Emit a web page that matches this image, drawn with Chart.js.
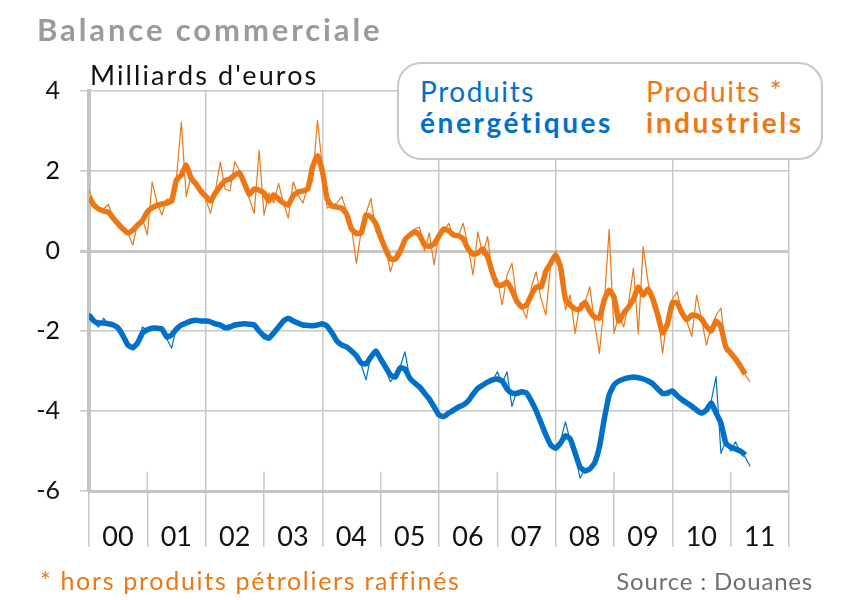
<!DOCTYPE html>
<html lang="fr">
<head>
<meta charset="utf-8">
<title>Balance commerciale</title>
<script src="https://cdn.jsdelivr.net/npm/chart.js@4.4.1/dist/chart.umd.min.js"></script>
<style>
  html, body { margin: 0; padding: 0; background: #fff; }
  #wrap { position: relative; width: 858px; height: 600px; font-family: Lato, sans-serif; overflow: hidden; }
  #wrap canvas { position: absolute; left: 0; top: 0; }
  .txt { position: absolute; white-space: nowrap; }
  .title { left: 37px; top: 14px; font-size: 31px; line-height: 31px; font-weight: 700; color: #9b9b9b; letter-spacing: 2.9px; }
  .unit { left: 90px; top: 61px; font-size: 27px; line-height: 27px; color: #111; letter-spacing: 2.1px; }
  .legend { position: absolute; left: 397px; top: 62px; width: 422px; height: 94px; border: 2px solid #c8c8c8; border-radius: 24px; background: #fff; }
  .leg { top: 76px; font-size: 28px; line-height: 31px; letter-spacing: 1.6px; }
  .leg b { letter-spacing: 2.6px; }
  .note { left: 40px; top: 568px; font-size: 25px; line-height: 25px; color: #ec7714; letter-spacing: 1.7px; }
  .source { right: 45px; top: 569px; font-size: 24px; line-height: 24px; color: #707070; letter-spacing: 0.8px; }
</style>
</head>
<body>
<div id="wrap">
  <canvas id="chart" width="858" height="600"></canvas>
  <div class="txt title">Balance commerciale</div>
  <div class="txt unit">Milliards d'euros</div>
  <div class="legend"></div>
  <div class="txt leg" style="left:420px;color:#0070c8">Produits<br><b>énergétiques</b></div>
  <div class="txt leg" style="left:646px;color:#ec7714">Produits *<br><b>industriels</b></div>
  <div class="txt note">* hors produits pétroliers raffinés</div>
  <div class="txt source">Source : Douanes</div>
</div>
<script>
// monthly values, Jan 2000 -> May 2011 (one row per year)
const startYear = 2000;
const yearTicks = [2000, 2001, 2002, 2003, 2004, 2005, 2006, 2007, 2008, 2009, 2010, 2011, 2012];
const yearLabels = ['00', '01', '02', '03', '04', '05', '06', '07', '08', '09', '10', '11', ''];
const oddYears = [2001, 2003, 2005, 2007, 2009, 2011];

// produits industriels, raw
const indusRaw = [
  1.52, 1.2, 1.02, 1.05, 1.17, 0.8, 0.7, 0.55, 0.45, 0.15, 0.7, 0.8,
  0.4, 1.73, 1.2, 0.9, 1.3, 1.3, 1.85, 3.22, 1.36, 1.9, 1.6, 1.45,
  1.3, 0.94, 1.5, 2.23, 1.55, 1.5, 2.23, 2.0, 1.55, 1.3, 0.94, 2.52,
  0.9, 1.45, 1.2, 1.69, 1.2, 0.82, 1.73, 1.4, 1.2, 1.6, 1.75, 3.27,
  2.1, 1.07, 1.15, 1.2, 1.36, 1.0, 0.6, -0.31, 0.5, 0.95, 1.32, 0.5,
  0.3, 0.1, -0.52, -0.1, 0.1, 0.35, 0.4, 0.55, 0.6, 0.0, 0.45, -0.35,
  0.45, 0.5, 0.69, 0.35, 0.4, 0.69, 0.1, -0.6, 0.48, -0.1, 0.36, -0.6,
  -0.7, -1.35, -0.6, -0.31, -1.2, -1.4, -1.68, -0.9, -0.52, -1.2, -1.6, -0.3,
  0.0, -0.5, -1.47, -1.1, -2.06, -1.3, -1.3, -0.89, -1.8, -2.56, -1.3, 0.54,
  -2.06, -1.6, -1.9, -1.3, -0.43, -2.06, 0.11, -0.77, -1.4, -1.5, -2.56, -1.6,
  -1.2, -1.02, -1.6, -1.77, -2.14, -1.1, -1.7, -2.35, -1.9, -1.6, -1.43, -2.52,
  -2.5, -2.75, -2.9, -3.1, -3.27
];
// produits industriels, smoothed
const indusSmooth = [
  1.35, 1.15, 1.05, 1.0, 0.97, 0.82, 0.68, 0.55, 0.45, 0.52, 0.65, 0.76,
  0.98, 1.08, 1.14, 1.18, 1.2, 1.25, 1.78, 1.9, 2.15, 1.82, 1.68, 1.5,
  1.37, 1.25, 1.45, 1.62, 1.76, 1.8, 1.9, 1.95, 1.68, 1.42, 1.55, 1.52,
  1.45, 1.25, 1.4, 1.3, 1.2, 1.15, 1.38, 1.47, 1.5, 1.55, 2.1, 2.38,
  2.0, 1.3, 1.12, 1.1, 1.07, 0.92, 0.55, 0.44, 0.45, 0.9, 0.85, 0.68,
  0.35, 0.05, -0.2, -0.2, -0.02, 0.28, 0.4, 0.48, 0.4, 0.15, 0.12, 0.18,
  0.38, 0.55, 0.5, 0.4, 0.38, 0.3, 0.05, -0.08, -0.05, 0.05, -0.15, -0.55,
  -0.85, -0.85, -0.78, -0.98, -1.25, -1.4, -1.35, -1.1, -0.9, -0.9, -0.5, -0.3,
  -0.1, -0.4, -1.2, -1.35, -1.45, -1.45, -1.28, -1.5, -1.65, -1.68, -1.22, -0.98,
  -1.15, -1.75, -1.55, -1.4, -1.2, -0.9, -1.1, -0.95, -1.2, -1.6, -2.05, -1.82,
  -1.3, -1.3, -1.55, -1.72, -1.6, -1.62, -1.7, -1.88, -2.0, -1.75, -1.9, -2.4,
  -2.55, -2.7, -2.88, -3.08, null
];
// produits energetiques, raw
const energRaw = [
  -1.55, -1.8, -1.9, -1.68, -1.85, -1.85, -1.95, -2.15, -2.4, -2.45, -2.28, -1.9,
  -2.0, -1.9, -1.95, -1.9, -2.2, -2.43, -1.9, -1.85, -1.78, -1.73, -1.75, -1.72,
  -1.78, -1.75, -1.85, -1.83, -1.95, -1.85, -1.8, -1.85, -1.78, -1.88, -1.8, -2.05,
  -2.2, -2.15, -2.0, -1.88, -1.72, -1.65, -1.78, -1.82, -1.88, -1.85, -1.9, -1.82,
  -1.78, -1.9, -2.1, -2.25, -2.4, -2.38, -2.55, -2.6, -2.85, -3.22, -2.6, -2.45,
  -2.75, -2.95, -3.27, -3.1, -2.9, -2.52, -3.2, -3.3, -3.45, -3.55, -3.75, -3.95,
  -4.15, -4.1, -4.05, -3.95, -3.92, -3.8, -3.72, -3.6, -3.4, -3.35, -3.25, -3.25,
  -3.02, -3.3, -3.02, -3.89, -3.5, -3.55, -3.5, -3.8, -4.05, -4.35, -4.65, -4.9,
  -4.95, -4.75, -4.27, -4.75, -5.1, -5.68, -5.45, -5.5, -5.3, -4.85, -4.15, -3.55,
  -3.3, -3.25, -3.2, -3.15, -3.17, -3.15, -3.22, -3.25, -3.35, -3.45, -3.6, -3.5,
  -3.55, -3.65, -3.75, -3.8, -3.95, -3.9, -4.1, -3.9, -3.75, -3.14, -5.06, -4.75,
  -5.0, -4.77, -5.05, -5.15, -5.39
];
// produits energetiques, smoothed
const energSmooth = [
  -1.6, -1.75, -1.8, -1.8, -1.82, -1.85, -1.93, -2.12, -2.35, -2.42, -2.3, -2.05,
  -1.97, -1.93, -1.93, -1.95, -2.15, -2.1, -1.95, -1.85, -1.8, -1.75, -1.73, -1.75,
  -1.75, -1.77, -1.82, -1.85, -1.92, -1.9, -1.85, -1.83, -1.82, -1.83, -1.85, -2.0,
  -2.12, -2.18, -2.05, -1.9, -1.75, -1.68, -1.75, -1.8, -1.85, -1.86, -1.87, -1.85,
  -1.82, -1.88, -2.05, -2.25, -2.35, -2.4, -2.5, -2.62, -2.8, -2.82, -2.65, -2.5,
  -2.7, -2.9, -3.1, -3.15, -2.92, -2.95, -3.18, -3.3, -3.4, -3.55, -3.7, -3.9,
  -4.1, -4.14, -4.05, -3.98, -3.9, -3.85, -3.75, -3.58, -3.43, -3.35, -3.28, -3.22,
  -3.2, -3.25, -3.45, -3.55, -3.56, -3.52, -3.55, -3.75, -4.0, -4.3, -4.6, -4.85,
  -4.93, -4.8, -4.62, -4.7, -5.05, -5.4, -5.5, -5.45, -5.3, -4.9, -4.2, -3.6,
  -3.35, -3.25, -3.2, -3.17, -3.15, -3.17, -3.2, -3.25, -3.32, -3.45, -3.56, -3.55,
  -3.5, -3.62, -3.72, -3.8, -3.88, -3.98, -4.05, -3.98, -3.8, -4.05, -4.3, -4.8,
  -4.9, -4.95, -5.0, -5.1, null
];

const BLUE = '#0070c8';
const ORANGE = '#ec7714';
const GRID = '#c8c8c8';

// month index -> decimal year on the x axis
const toPoints = arr => arr.map((v, i) => ({ x: startYear + i / 12, y: v }));

const lineSet = (label, arr, color, width, order) => ({
  label,
  data: toPoints(arr),
  borderColor: color,
  borderWidth: width,
  pointRadius: 0,
  tension: width > 2 ? 0.15 : 0,
  borderJoinStyle: 'round',
  spanGaps: false,
  order
});

// short marks above the axis for odd years
const oddYearTicks = {
  id: 'oddYearTicks',
  beforeDatasetsDraw(chart) {
    const { ctx, scales: { x, y } } = chart;
    ctx.save();
    ctx.strokeStyle = GRID;
    ctx.lineWidth = 1.5;
    oddYears.forEach(yr => {
      const px = x.getPixelForValue(yr);
      ctx.beginPath();
      ctx.moveTo(px, y.getPixelForValue(-6));
      ctx.lineTo(px, y.getPixelForValue(-5.52));
      ctx.stroke();
    });
    ctx.restore();
  }
};

new Chart(document.getElementById('chart'), {
  type: 'line',
  data: {
    datasets: [
      lineSet('Produits énergétiques (lissé)', energSmooth, BLUE, 5.5, 4),
      lineSet('Produits énergétiques', energRaw, BLUE, 1.2, 3),
      lineSet('Produits industriels (lissé)', indusSmooth, ORANGE, 5.5, 2),
      lineSet('Produits industriels', indusRaw, ORANGE, 1.2, 1)
    ]
  },
  options: {
    responsive: false,
    animation: false,
    layout: { padding: { left: 0, top: 91, right: 69, bottom: 49 } },
    plugins: { legend: { display: false }, tooltip: { enabled: false } },
    scales: {
      x: {
        type: 'linear',
        min: 2000,
        max: 2012,
        afterFit: s => { s.height = 60; },
        afterBuildTicks: s => { s.ticks = yearTicks.map(v => ({ value: v })); },
        ticks: {
          autoSkip: false,
          maxRotation: 0,
          labelOffset: 29,
          padding: -26,
          color: '#111',
          font: { family: 'Lato', size: 27 },
          callback: (v, i) => yearLabels[i]
        },
        grid: {
          color: c => (c.tick && c.tick.value % 2 === 0) ? GRID : 'rgba(0,0,0,0)',
          lineWidth: 1.5,
          tickLength: 56,
          tickColor: GRID,
          tickWidth: 1.5
        },
        border: { color: '#c4c4c4', width: 3 }
      },
      y: {
        min: -6,
        max: 4,
        afterFit: s => { s.width = 89; },
        ticks: {
          stepSize: 2,
          padding: 20,
          color: '#111',
          font: { family: 'Lato', size: 25 }
        },
        grid: {
          color: GRID,
          lineWidth: c => (c.tick && c.tick.value === 0) ? 3 : 1.5,
          tickLength: 9,
          tickColor: GRID
        },
        border: { color: '#c4c4c4', width: 4 }
      }
    }
  },
  plugins: [oddYearTicks]
});
</script>
</body>
</html>
